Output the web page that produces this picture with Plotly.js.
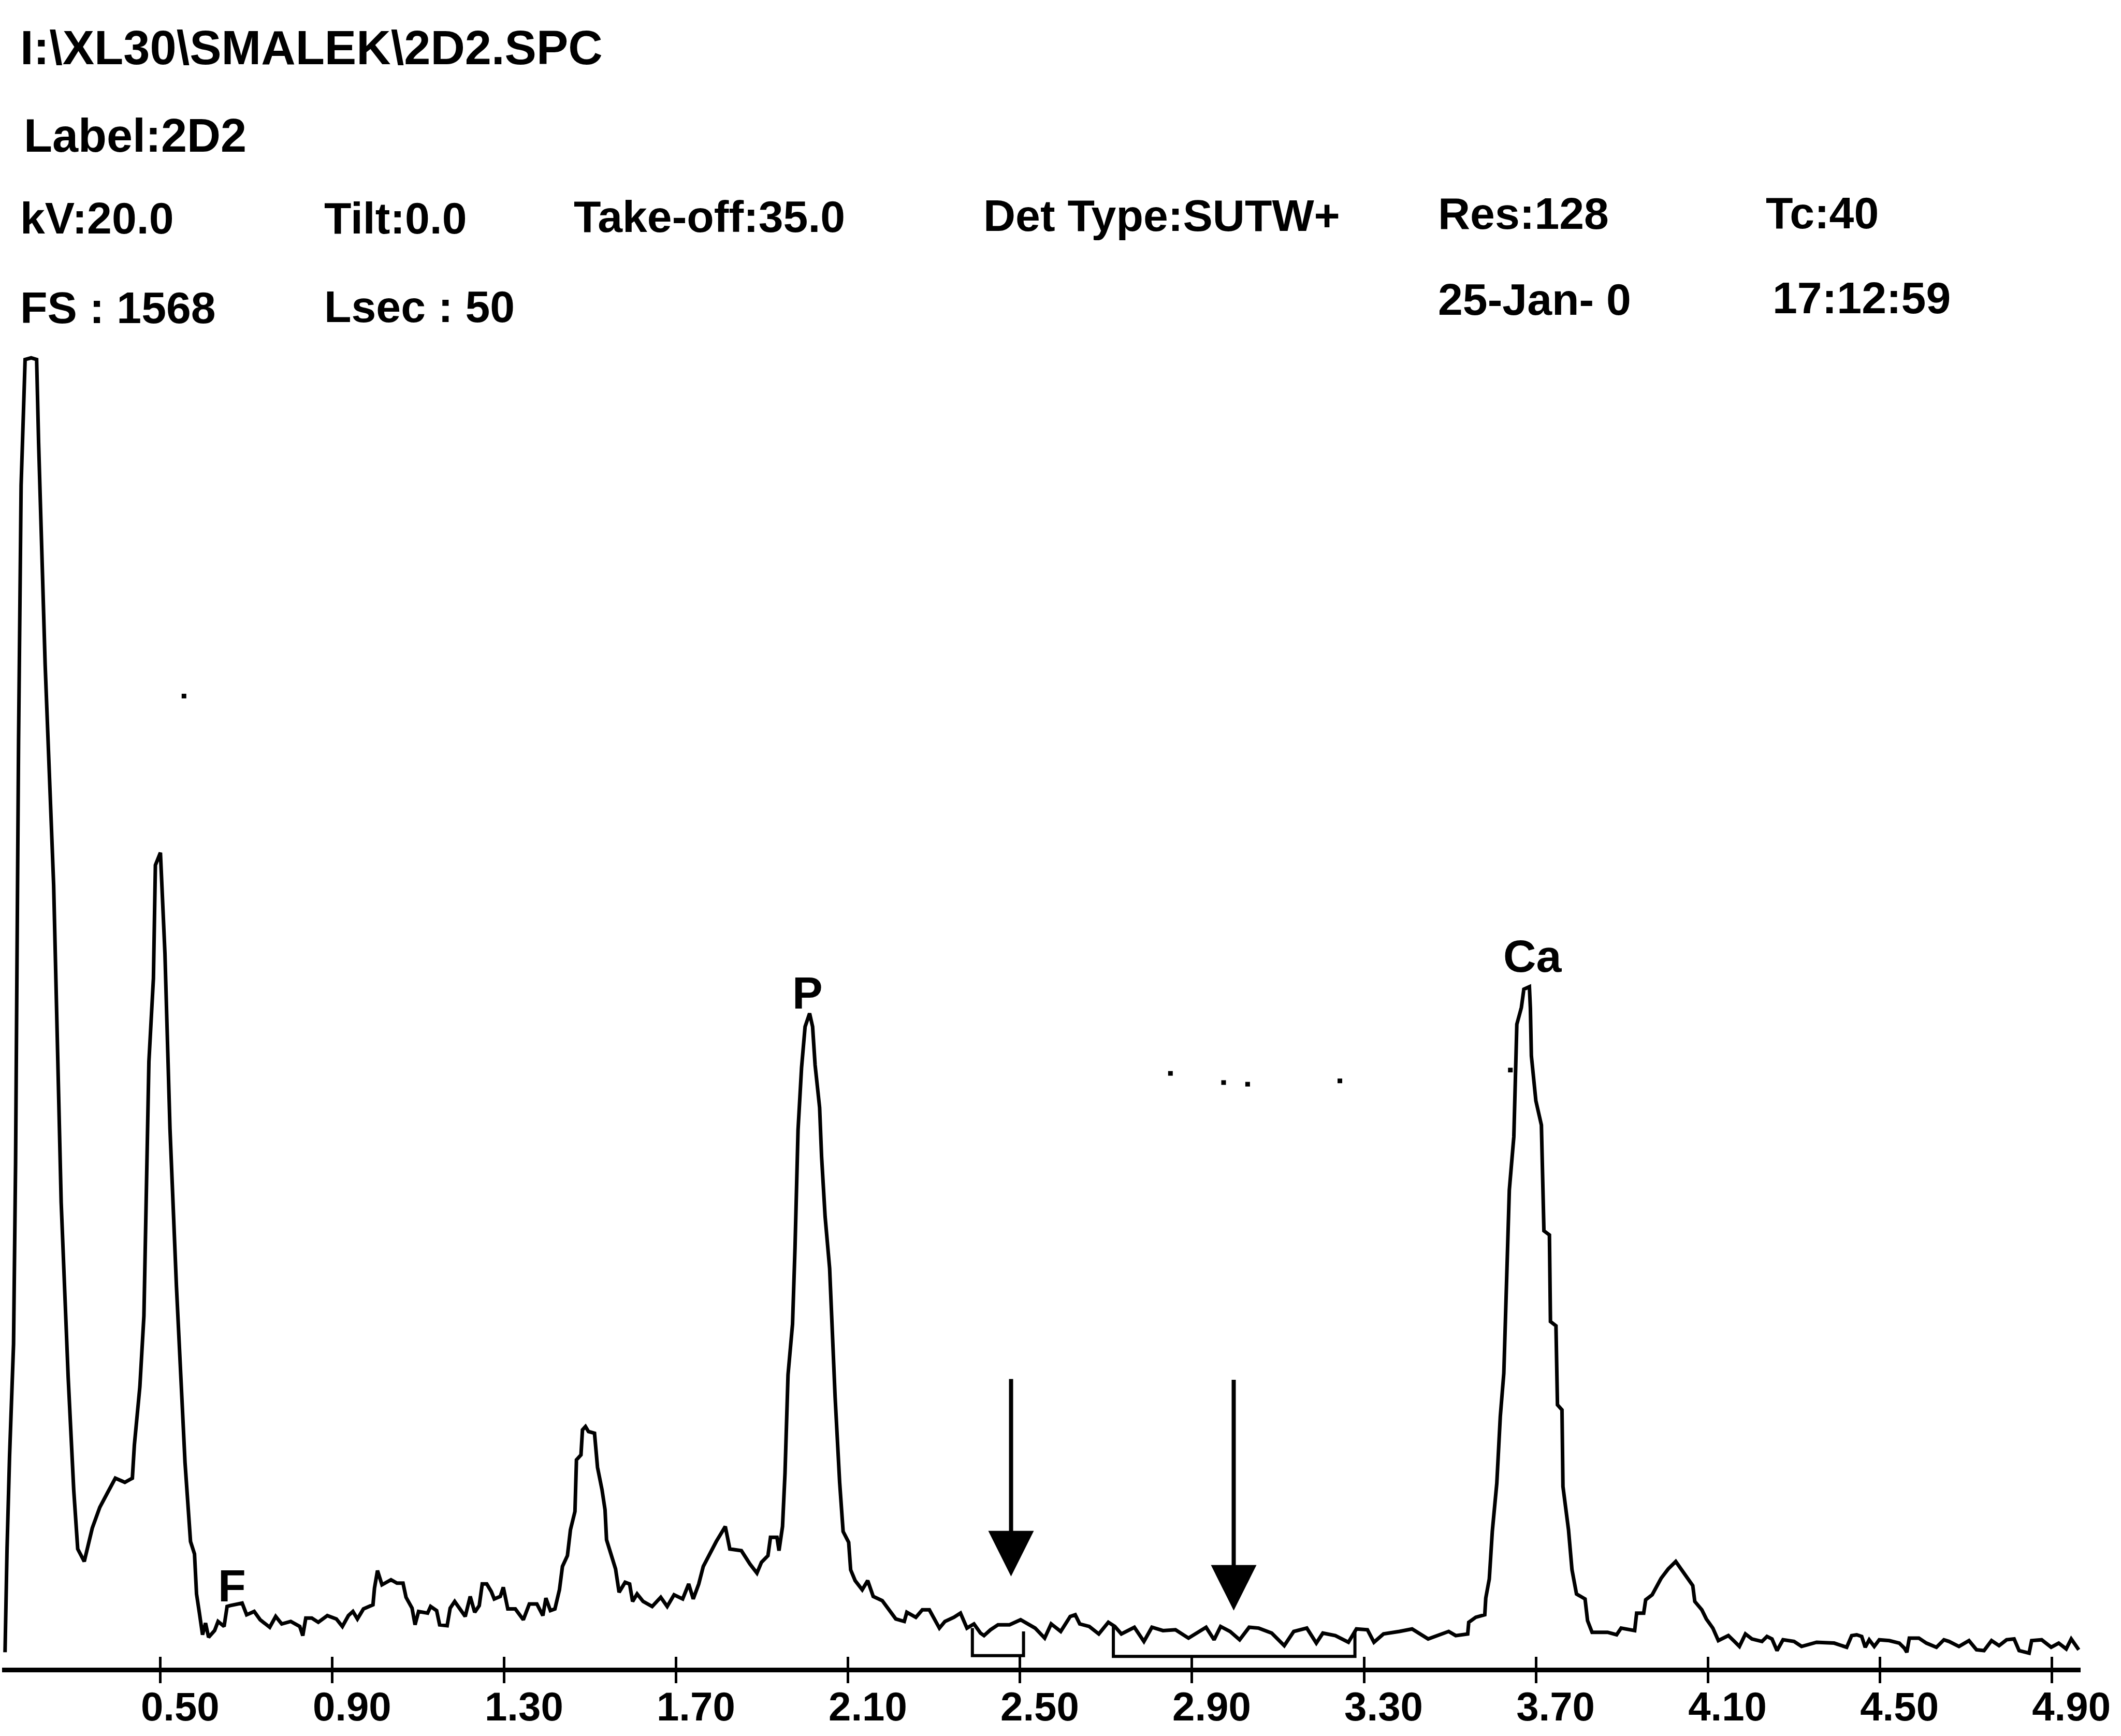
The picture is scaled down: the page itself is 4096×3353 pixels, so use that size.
<!DOCTYPE html>
<html><head><meta charset="utf-8">
<script src="https://cdn.plot.ly/plotly-3.0.1.min.js"></script>
<style>html,body{margin:0;padding:0;background:#fff;overflow:hidden}#chart{width:4096px;height:3353px}</style>
</head><body><div id="chart"></div>
<script>
// ---- spectrum (energy in keV, counts) ----
const energyKeV = [
0.1385,0.1408,0.1432,0.1490,0.1583,0.1630,0.1665,0.1700,0.1759,0.1852,
0.1992,0.2120,0.2166,0.2318,0.2516,0.2691,0.2854,0.2983,0.3076,0.3228,
0.3414,0.3589,0.3764,0.3951,0.4172,0.4347,0.4394,0.4522,0.4616,0.4662,
0.4732,0.4837,0.4883,0.5000,0.5105,0.5222,0.5373,0.5572,0.5700,0.5793,
0.5840,0.5910,0.5980,0.6050,0.6120,0.6260,0.6341,0.6481,0.6551,0.6621,
0.6761,0.6901,0.7006,0.7181,0.7321,0.7543,0.7682,0.7822,0.8032,0.8242,
0.8312,0.8382,0.8522,0.8673,0.8883,0.9093,0.9233,0.9373,0.9478,0.9583,
0.9723,0.9945,0.9980,1.0050,1.0155,1.0364,1.0504,1.0644,1.0714,1.0854,
1.0924,1.1006,1.1216,1.1286,1.1426,1.1496,1.1671,1.1741,1.1846,1.1986,
1.2091,1.2207,1.2312,1.2417,1.2487,1.2592,1.2697,1.2767,1.2907,1.2977,
1.3082,1.3257,1.3443,1.3583,1.3758,1.3898,1.3968,1.4073,1.4178,1.4283,
1.4353,1.4469,1.4539,1.4644,1.4679,1.4784,1.4819,1.4889,1.4959,1.5099,
1.5169,1.5274,1.5344,1.5379,1.5484,1.5589,1.5671,1.5811,1.5916,1.5985,
1.6090,1.6230,1.6440,1.6640,1.6790,1.6950,1.7150,1.7290,1.7396,1.7524,
1.7629,1.7734,1.7932,1.8142,1.8247,1.8516,1.8714,1.8878,1.8983,1.9134,
1.9193,1.9344,1.9391,1.9473,1.9531,1.9601,1.9706,1.9764,1.9834,1.9916,
1.9998,2.0103,2.0173,2.0231,2.0336,2.0382,2.0464,2.0569,2.0615,2.0697,
2.0802,2.0883,2.1012,2.1058,2.1163,2.1327,2.1455,2.1583,2.1793,2.1945,
2.2108,2.2306,2.2365,2.2575,2.2726,2.2889,2.3123,2.3251,2.3461,2.3613,
2.3764,2.3927,2.4079,2.4161,2.4312,2.4487,2.4755,2.5012,2.5233,2.5350,
2.5572,2.5723,2.5945,2.6166,2.6283,2.6388,2.6610,2.6831,2.7053,2.7204,
2.7356,2.7659,2.7881,2.8067,2.8324,2.8615,2.8918,2.9327,2.9513,2.9665,
2.9886,3.0108,3.0329,3.0551,3.0854,3.1146,3.1367,3.1670,3.1892,3.2044,
3.2335,3.2638,3.2825,3.3081,3.3233,3.3455,3.3828,3.4120,3.4493,3.4715,
3.4971,3.5135,3.5414,3.5438,3.5601,3.5811,3.5834,3.5916,3.5986,3.6091,
3.6172,3.6254,3.6324,3.6382,3.6487,3.6557,3.6662,3.6720,3.6849,3.6872,
3.6895,3.7000,3.7128,3.7187,3.7315,3.7339,3.7467,3.7502,3.7607,3.7630,
3.7759,3.7840,3.7945,3.8144,3.8202,3.8307,3.8668,3.8878,3.8983,3.9298,
3.9344,3.9508,3.9554,3.9706,3.9916,4.0079,4.0254,4.0440,4.0650,4.0697,
4.0860,4.0965,4.1117,4.1245,4.1478,4.1618,4.1735,4.1875,4.2026,4.2260,
4.2376,4.2493,4.2610,4.2750,4.3006,4.3181,4.3531,4.3939,4.4231,4.4347,
4.4464,4.4580,4.4662,4.4755,4.4872,4.4989,4.5222,4.5455,4.5572,4.5630,
4.5688,4.5910,4.6085,4.6318,4.6493,4.6610,4.6843,4.7076,4.7251,4.7426,
4.7601,4.7776,4.7951,4.8126,4.8242,4.8475,4.8534,4.8767,4.8988,4.9163,
4.9338,4.9455,4.9630
];
const counts = [
16,91,141,251,386,602,871,1112,1417,1568,
1570,1568,1468,1202,937,556,346,211,140,125,
165,190,207,225,220,225,265,335,420,535,
725,825,961,976,855,645,455,244,149,134,
86,62,37,51,34,42,53,47,71,72,
73,75,61,65,55,46,59,50,53,47,
36,57,57,52,60,56,47,60,65,56,
68,73,93,114,97,103,99,99,82,69,
49,65,63,71,66,49,48,69,77,66,
59,83,64,72,98,98,89,80,83,94,
68,68,55,74,74,60,81,66,68,91,
119,132,163,185,247,253,283,287,281,279,
238,211,187,151,133,116,88,100,98,77,
86,77,71,82,71,85,80,98,80,98,
119,130,149,167,140,138,122,111,124,132,
154,154,138,167,231,349,410,502,643,718,
767,783,767,721,670,611,539,477,415,322,
220,161,148,115,102,91,102,83,78,67,
56,53,64,58,67,67,45,53,58,63,
45,50,39,36,43,49,49,55,49,45,
33,50,41,59,61,50,47,38,52,47,
38,46,29,46,42,43,33,46,31,47,
41,31,46,45,39,24,41,45,27,39,
36,28,44,43,28,38,41,44,32,36,
41,36,38,52,58,61,81,104,161,219,
299,351,463,571,635,770,790,812,815,789,
732,678,649,522,517,413,408,313,307,215,
163,115,86,80,54,40,40,37,45,42,
63,63,79,85,105,116,125,111,96,77,
67,56,45,30,36,29,23,38,32,29,
35,32,18,31,29,23,28,27,22,36,
37,35,22,31,23,31,30,27,21,16,
33,33,27,22,31,29,23,30,19,18,
30,24,31,32,18,15,30,31,22,27,
20,32,19
];

// ---- axis ticks ----
const tickValues = [0.5,0.9,1.3,1.7,2.1,2.5,2.9,3.3,3.7,4.1,4.5,4.9];
const tickLabels = ['0.50','0.90','1.30','1.70','2.10','2.50','2.90','3.30','3.70','4.10','4.50','4.90'];

// ---- element labels ----
const peakLabels = ['F','P','Ca'];
const peakLabelKeV = [0.667, 2.006, 3.693];
const peakLabelCounts = [96, 808, 852];

// ---- marker arrows ----
const arrowKeV = [2.479, 2.997];
const arrowTipCounts = [107, 66];
const arrowTailCounts = [345, 344];

// ---- ROI brackets ----
const roiStartKeV = [2.389, 2.717];
const roiEndKeV = [2.508, 3.279];
const roiStartTop = [45, 48];
const roiEndTop = [41, 42];
const roiBottom = [12, 11];

// ---- stray specks ----
const speckKeV = [0.5548, 2.8498, 2.9735, 3.0294, 3.2440, 3.6406];
const speckCounts = [1164, 711, 700, 698, 702, 715];

// ---- header text ----
const headerPath = 'I:\\XL30\\SMALEK\\2D2.SPC';
const headerLabel = 'Label:2D2';
const headerParams = ['kV:20.0', 'Tilt:0.0', 'Take-off:35.0', 'Det Type:SUTW+', 'Res:128', 'Tc:40'];
const headerStats = ['FS : 1568', 'Lsec : 50', '25-Jan- 0', '17:12:59'];

// ================= layout =================
const W = 4096, H = 3353;
const L = 4, R = 78, T = 643, B = 132;
const xRange = [0.1316, 4.9673];
const yRange = [-2.48, 1600];
const plotBottom = H - B, plotTop = T;
const FONT = '"Liberation Sans", Arial, sans-serif';
const px = X => (X - L) / (W - L - R);
const py = Y => (plotBottom - Y) / (plotBottom - plotTop);

const headerPos = {
  path: [37, 92],
  label: [44, 262],
  params: [[37, 421], [624, 421], [1106, 418], [1897, 416], [2775, 412], [3408, 411]],
  stats: [[37, 594], [624, 592], [2775, 578], [3421, 575]]
};
const hFont = {family: FONT, size: 86, color: '#000', weight: 'bold'};
const annotations = [];
function headerText(text, pos, font) {
  annotations.push({xref: 'paper', yref: 'paper', x: px(pos[0]), y: py(pos[1]),
    xanchor: 'left', yanchor: 'middle', text: text, showarrow: false, font: font || hFont});
}
headerText(headerPath, headerPos.path, {family: FONT, size: 92, color: '#000', weight: 'bold'});
headerText(headerLabel, headerPos.label, {family: FONT, size: 90, color: '#000', weight: 'bold'});
headerParams.forEach((t, i) => headerText(t, headerPos.params[i]));
headerStats.forEach((t, i) => headerText(t, headerPos.stats[i]));

peakLabels.forEach((t, i) => annotations.push({
  xref: 'x', yref: 'y', x: peakLabelKeV[i], y: peakLabelCounts[i], text: t,
  showarrow: false, xanchor: 'center', yanchor: 'middle',
  font: {family: FONT, size: 88, color: '#000', weight: 'bold'}
}));

const ARROW_W = 8, ARROW_SIZE = 2.2;
arrowKeV.forEach((k, i) => annotations.push({
  xref: 'x', yref: 'y', axref: 'x', ayref: 'y',
  x: k, y: arrowTipCounts[i], ax: k, ay: arrowTailCounts[i], text: '',
  showarrow: true, arrowhead: 2, arrowsize: ARROW_SIZE, arrowwidth: ARROW_W, arrowcolor: '#000'
}));

// ROI bracket polyline built from arrays
const roiX = [], roiY = [];
roiStartKeV.forEach((s, i) => {
  roiX.push(s, s, roiEndKeV[i], roiEndKeV[i], null);
  roiY.push(roiStartTop[i], roiBottom[i], roiBottom[i], roiEndTop[i], null);
});

const traces = [
  {type: 'scatter', mode: 'lines', x: energyKeV, y: counts,
   line: {color: '#000', width: 7, shape: 'linear'}, hoverinfo: 'skip'},
  {type: 'scatter', mode: 'lines', x: roiX, y: roiY, xaxis: 'x2', yaxis: 'y',
   line: {color: '#000', width: 6}, hoverinfo: 'skip', connectgaps: false},
  {type: 'scatter', mode: 'markers', x: speckKeV, y: speckCounts,
   marker: {color: '#000', size: 9, symbol: 'square'}, hoverinfo: 'skip'}
];

const layout = {
  width: W, height: H,
  margin: {l: L, r: R, t: T, b: B, pad: 0},
  paper_bgcolor: '#fff', plot_bgcolor: '#fff',
  showlegend: false,
  xaxis: {
    range: xRange, showgrid: false, zeroline: false,
    showline: true, linecolor: '#000', linewidth: 9,
    tickmode: 'array', tickvals: tickValues, ticktext: tickLabels,
    ticks: 'outside', ticklen: 21, tickwidth: 5, tickcolor: '#000',
    tickfont: {family: FONT, size: 78, color: '#000', weight: 'bold'},
    ticklabelshift: 38, ticklabelstandoff: -22
  },
  xaxis2: {
    range: xRange, overlaying: 'x', anchor: 'y', side: 'bottom',
    showgrid: false, zeroline: false, showline: false,
    tickmode: 'array', tickvals: tickValues,
    ticks: 'inside', ticklen: 21, tickwidth: 5, tickcolor: '#000',
    showticklabels: false
  },
  yaxis: {range: yRange, visible: false, showgrid: false, zeroline: false},
  annotations: annotations
};

Plotly.newPlot('chart', traces, layout, {staticPlot: true, displayModeBar: false});
</script>
</body></html>
